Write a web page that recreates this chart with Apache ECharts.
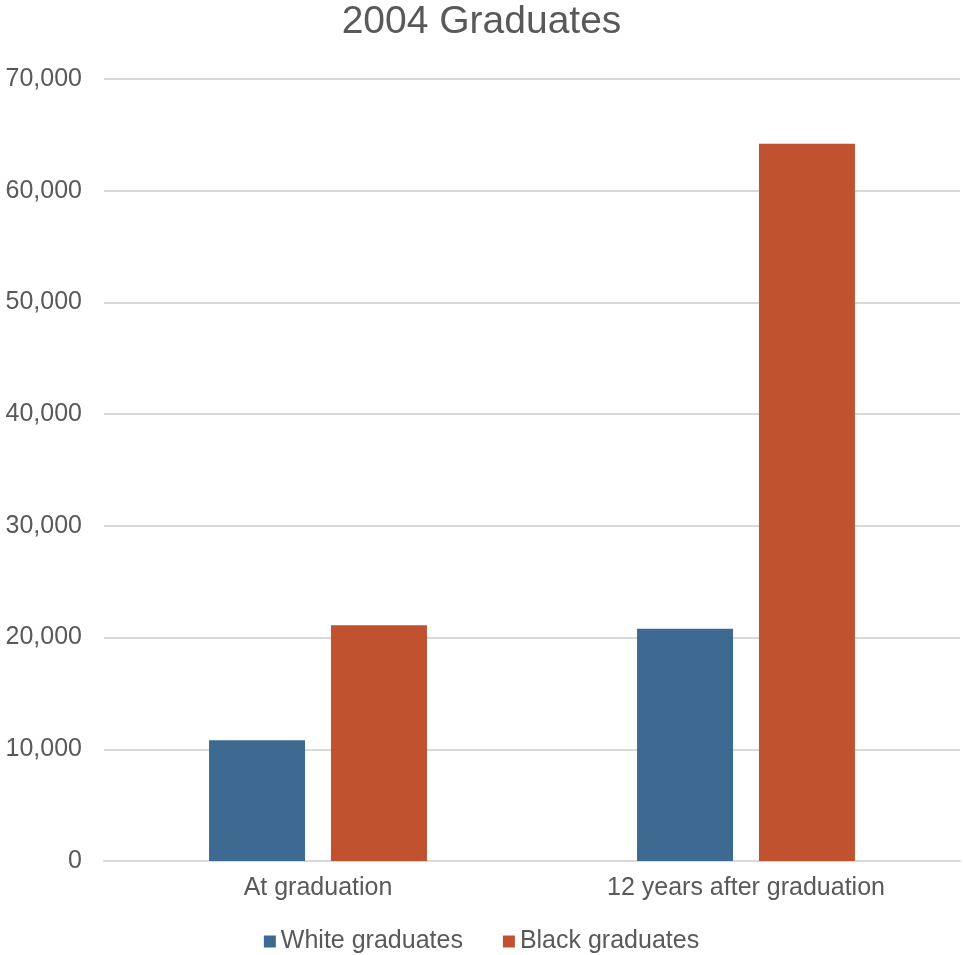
<!DOCTYPE html>
<html>
<head>
<meta charset="utf-8">
<script src="https://cdn.jsdelivr.net/npm/echarts@6/dist/echarts.min.js"></script>
<style>
html,body{margin:0;padding:0;background:#fff;}
#chart{width:963px;height:955px;}
</style>
</head>
<body>
<div id="chart"></div>
<script>
const categories = ['At graduation', '12 years after graduation'];
const whiteGraduates = [10800, 20800];
const blackGraduates = [21100, 64200];
const seriesNames = ['White graduates', 'Black graduates'];

const chart = echarts.init(document.getElementById('chart'));
const font = '"Liberation Sans", Helvetica, Arial, sans-serif';
chart.setOption({
  animation: false,
  backgroundColor: '#ffffff',
  textStyle: {fontFamily: font},
  title: {
    text: '2004 Graduates',
    left: 'center',
    top: -2,
    textStyle: {fontFamily: font, fontSize: 39, fontWeight: 'normal', color: '#595959'}
  },
  legend: {
    bottom: -4,
    left: 'center',
    itemWidth: 12,
    itemHeight: 12,
    itemGap: 40,
    icon: 'rect',
    textStyle: {fontFamily: font, fontSize: 25, color: '#595959'},
    data: seriesNames
  },
  grid: {left: 104, right: 3, top: 79, bottom: 94, containLabel: false},
  xAxis: {
    type: 'category',
    data: categories,
    axisLine: {show: true, lineStyle: {color: '#d9d9d9', width: 2}},
    axisTick: {show: false},
    axisLabel: {fontFamily: font, fontSize: 25, color: '#595959', margin: 15}
  },
  yAxis: {
    type: 'value',
    min: 0,
    max: 70000,
    interval: 10000,
    axisLine: {show: false},
    axisTick: {show: false},
    splitLine: {lineStyle: {color: '#d9d9d9', width: 2}},
    axisLabel: {
      fontFamily: font, fontSize: 25, color: '#595959', margin: 22,
      formatter: v => v.toLocaleString('en-US')
    }
  },
  series: [
    {name: seriesNames[0], type: 'bar', data: whiteGraduates, barWidth: 96, barGap: '27%',
     itemStyle: {color: '#3E6990'}},
    {name: seriesNames[1], type: 'bar', data: blackGraduates, barWidth: 96,
     itemStyle: {color: '#C05230'}}
  ]
});
</script>
</body>
</html>
